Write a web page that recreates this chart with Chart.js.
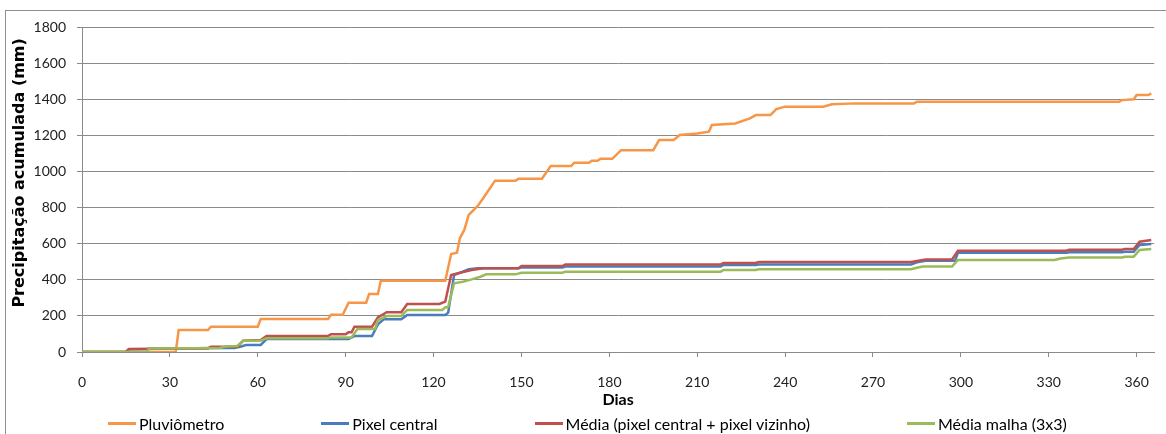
<!DOCTYPE html>
<html>
<head>
<meta charset="utf-8">
<script src="https://cdn.jsdelivr.net/npm/chart.js@4/dist/chart.umd.min.js"></script>
<style>
  html, body { margin: 0; padding: 0; background: #fff; overflow: hidden; }
  #wrap { position: relative; width: 1166px; height: 434px; overflow: hidden; }
  #frame { position: absolute; left: 5px; top: 10px; width: 1200px; height: 500px; border: 1px solid #8f8f8f; box-sizing: border-box; }
  canvas { position: absolute; left: 0; top: 0; }
  #legend { position: absolute; left: 108px; top: 414px; display: flex; gap: 97px; font: 16px Lato, sans-serif; color: #000; white-space: nowrap; }
  #legend .item { display: flex; align-items: center; }
  #legend .swatch { width: 28px; height: 3px; margin-right: 3px; }
</style>
</head>
<body>
<div id="wrap">
  <div id="frame"></div>
  <canvas id="chart" width="1166" height="434"></canvas>
  <div id="legend"></div>
</div>
<script>
// Series names and colours
const seriesNames = ['Pluviômetro', 'Pixel central', 'Média (pixel central + pixel vizinho)', 'Média malha (3x3)'];
const seriesColors = ['#F79646', '#4A7EBB', '#C0504D', '#9BBB59'];

// Accumulated precipitation (day, mm) at the break points
const pluvDays = [0, 32, 33, 43, 44, 60, 61, 84, 85, 89, 91, 97, 98, 101, 102, 124, 126, 128, 129, 130.5, 132, 135, 137, 141, 148, 149, 157, 160, 167, 168, 173, 174, 176, 177, 181, 184, 195, 197, 202, 204, 210, 214, 215, 223, 228, 230, 235, 237, 240, 253, 256, 264, 284, 285, 354, 355, 359, 360, 364, 365];
const pluvValues = [0, 0, 122, 122, 140, 140, 183, 183, 206, 206, 273, 273, 321, 321, 395, 395, 543, 550, 631, 676, 759, 808, 853, 949, 949, 960, 960, 1030, 1030, 1048, 1048, 1059, 1059, 1070, 1070, 1118, 1118, 1174, 1174, 1202, 1210, 1220, 1257, 1266, 1294, 1312, 1312, 1345, 1359, 1359, 1372, 1377, 1377, 1386, 1386, 1395, 1400, 1423, 1423, 1432];

const pixelDays = [0, 15, 16, 33, 44, 52, 54, 56, 61, 63, 91, 93, 99, 101, 103, 109, 111, 124, 125, 127, 130, 132, 135, 149, 150, 164, 165, 218, 219, 230, 231, 283, 285, 288, 298, 299, 336, 337, 355, 356, 359, 361, 365];
const pixelValues = [0, 0, 15, 20, 22, 22, 29, 39, 39, 72, 72, 88, 88, 153, 181, 181, 205, 205, 218, 426, 445, 458, 464, 464, 468, 468, 473, 473, 482, 482, 485, 485, 497, 505, 505, 550, 550, 552, 552, 555, 555, 593, 598];

const mediaDays = [0, 15, 16, 22, 23, 43, 44, 53, 55, 61, 63, 84, 85, 90, 91, 92, 93, 99, 101, 104, 109, 111, 122, 124, 126, 129, 133, 137, 149, 150, 164, 165, 218, 219, 230, 231, 283, 285, 288, 297, 299, 336, 337, 355, 356, 359, 361, 365];
const mediaValues = [0, 0, 16, 16, 20, 20, 29, 29, 62, 66, 88, 88, 99, 99, 109, 109, 140, 140, 192, 220, 220, 266, 266, 279, 426, 439, 454, 464, 464, 476, 476, 485, 485, 493, 493, 498, 498, 504, 513, 513, 561, 561, 567, 567, 570, 570, 611, 620];

const malhaDays = [0, 22, 23, 47, 49, 53, 55, 61, 63, 84, 85, 92, 94, 100, 101, 104, 109, 111, 123, 124, 125, 127, 130, 133, 136, 138, 148, 150, 164, 165, 218, 219, 230, 231, 283, 285, 287, 297, 299, 332, 334, 337, 355, 356, 359, 361, 365];
const malhaValues = [0, 0, 20, 22, 30, 33, 62, 63, 76, 76, 81, 81, 127, 127, 177, 199, 199, 233, 233, 247, 250, 380, 389, 402, 417, 430, 430, 439, 439, 445, 445, 454, 454, 458, 458, 467, 473, 473, 510, 510, 518, 524, 524, 528, 528, 565, 570];

// Axis settings
const yTicks = { min: 0, max: 1800, step: 200 };
const xTicks = { min: 0, max: 366, step: 30 };

function toPoints(days, values) {
  return days.map((d, i) => ({ x: d, y: values[i] }));
}

const seriesData = [
  toPoints(pluvDays, pluvValues),
  toPoints(pixelDays, pixelValues),
  toPoints(mediaDays, mediaValues),
  toPoints(malhaDays, malhaValues)
];

const datasets = seriesData.map((pts, i) => ({
  label: seriesNames[i],
  data: pts,
  borderColor: seriesColors[i],
  backgroundColor: seriesColors[i],
  borderWidth: 2.5,
  pointRadius: 0,
  tension: 0,
  fill: false,
  order: seriesData.length - i // later series drawn on top, like Excel
}));

const gridColor = '#8a8a8a';
const fontFamily = 'Lato, sans-serif';

new Chart(document.getElementById('chart'), {
  type: 'line',
  data: { datasets: datasets },
  options: {
    responsive: false,
    animation: false,
    layout: { padding: { left: 6, right: 11, top: 27, bottom: 23 } },
    plugins: {
      legend: { display: false },
      tooltip: { enabled: false }
    },
    scales: {
      x: {
        type: 'linear',
        min: xTicks.min,
        max: xTicks.max,
        afterFit: scale => { scale.height = 59; },
        grid: { drawOnChartArea: false, drawTicks: true, tickLength: 5, color: gridColor },
        border: { display: true, color: gridColor, width: 1 },
        ticks: {
          stepSize: xTicks.step,
          includeBounds: false,
          padding: 17,
          maxRotation: 0,
          color: '#222',
          font: { family: fontFamily, size: 14 },
          callback: v => String(v)
        },
        title: {
          display: true,
          text: 'Dias',
          color: '#000',
          padding: { top: 0, bottom: 2 },
          font: { family: fontFamily, size: 16, weight: 'bold' }
        }
      },
      y: {
        min: yTicks.min,
        max: yTicks.max,
        afterFit: scale => { scale.width = 76; },
        grid: { drawOnChartArea: true, drawTicks: true, tickLength: 5, color: gridColor },
        border: { display: true, color: gridColor, width: 1 },
        ticks: {
          stepSize: yTicks.step,
          padding: 11,
          color: '#222',
          font: { family: fontFamily, size: 14 },
          callback: v => String(v)
        },
        title: {
          display: true,
          text: 'Precipitação acumulada (mm)  ', // trailing spaces push it a bit down from the top
          align: 'end',
          color: '#000',
          padding: { top: 4, bottom: 0 },
          font: { family: 'DejaVu Sans', size: 16, weight: 'bold' }
        }
      }
    }
  }
});

// Legend kept as plain HTML so the wide Excel-like spacing is easy to match
const legendEl = document.getElementById('legend');
seriesNames.forEach((name, i) => {
  const item = document.createElement('div');
  item.className = 'item';
  const sw = document.createElement('span');
  sw.className = 'swatch';
  sw.style.background = seriesColors[i];
  const txt = document.createElement('span');
  txt.textContent = name;
  item.appendChild(sw);
  item.appendChild(txt);
  legendEl.appendChild(item);
});
</script>
</body>
</html>
